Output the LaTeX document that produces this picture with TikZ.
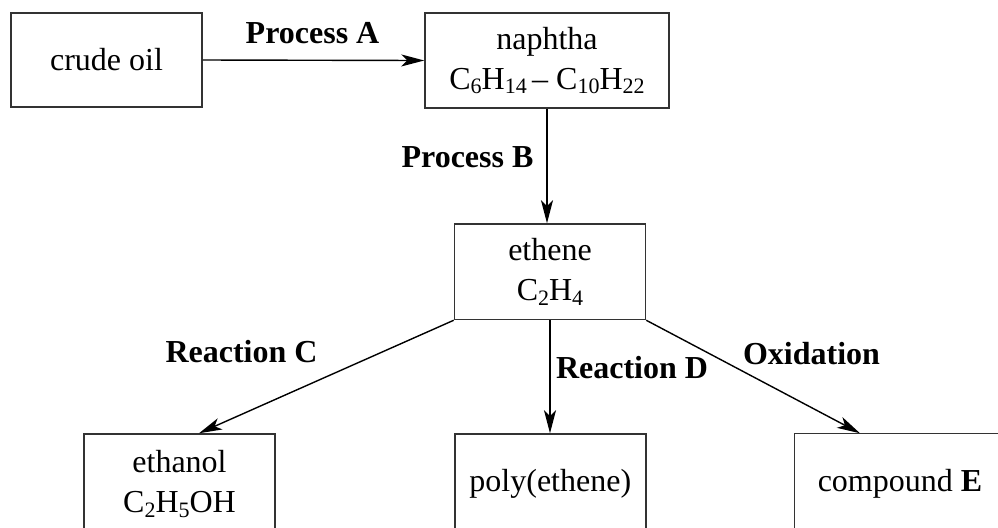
\documentclass[tikz,border=0pt]{standalone}
\usepackage{fontspec}
\setmainfont{Liberation Serif}
\usetikzlibrary{arrows.meta}
\newcommand{\chsub}[1]{\raisebox{-0.3ex}{\fontsize{11}{11}\selectfont #1}}
\begin{document}
\begin{tikzpicture}[x=0.5pt,y=-0.5pt,
  box/.style={draw=black!80, line width=0.75pt, rectangle, inner sep=0pt,
    minimum width=95.5pt, minimum height=47pt, align=center,
    font=\fontsize{16}{20}\selectfont},
  lowbox/.style={box, minimum height=50pt},
  edge/.style={draw=black!80, line width=0.75pt},
  lab/.style={font=\fontsize{16}{20}\selectfont\bfseries, anchor=base, inner sep=0pt},
  arr/.style={line width=0.7pt, -{Stealth[length=11.5pt,width=6pt,inset=3pt]}}]
\useasboundingbox (0,0) rectangle (998,527);
\clip (0,0) rectangle (998,527);
\node[box] (crude) at (106.5,60) {crude oil};
\node[box, minimum width=122pt, minimum height=47.5pt] (naph) at (547,60.5)
  {naphtha\\C\chsub{6}H\chsub{14}\,– C\chsub{10}H\chsub{22}};
\node[box, minimum height=47.75pt] (eth) at (550,271.75) {ethene\\C\chsub{2}H\chsub{4}};
\node[lowbox] (etoh) at (179.5,484) {ethanol\\C\chsub{2}H\chsub{5}OH};
\node[lowbox] (poly) at (550.3,484) {poly(ethene)};
\node[lowbox, draw=none, minimum width=110pt] (cmpE) at (905,484) {\hspace*{-5pt}compound \textbf{E}};
\draw[edge] (cmpE.south west) -- (cmpE.north west) -- (cmpE.north east);
\draw[arr] (crude.east) -- (naph.west);
\draw[arr] (naph.south) -- (naph.south |- eth.north);
\draw[arr] (eth.south west) -- ([xshift=9.75pt]etoh.north);
\draw[arr] (eth.south) -- (eth.south |- poly.north);
\draw[arr] (eth.south east) -- ([xshift=-22.5pt]cmpE.north);
\node[lab] (pA) at (312.5,43) {Process A};
\node[lab] (pB) at (467.5,167) {Process B};
\node[lab] (rC) at (241.5,362) {Reaction C};
\node[lab] (rD) at (632,378) {Reaction D};
\node[lab] (ox) at (811.5,364.5) {Oxidation};
\end{tikzpicture}
\end{document}
